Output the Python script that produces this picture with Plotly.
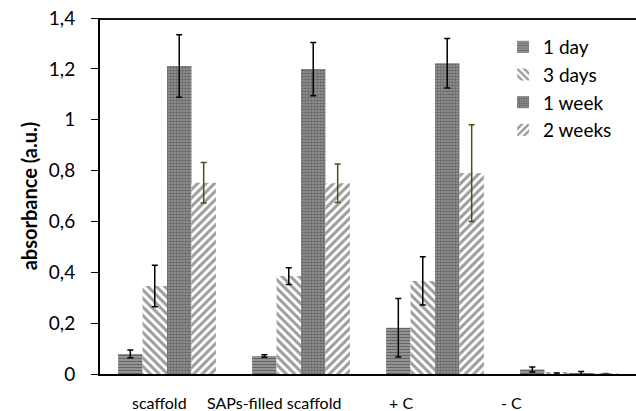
import plotly.graph_objects as go

categories = ["scaffold", "SAPs-filled scaffold", "+ C", "- C"]
series_names = ["1 day", "3 days", "1 week", "2 weeks"]
values = {
    "1 day":   [0.079, 0.071, 0.182, 0.018],
    "3 days":  [0.346, 0.385, 0.366, 0.004],
    "1 week":  [1.211, 1.199, 1.222, 0.002],
    "2 weeks": [0.752, 0.750, 0.790, 0.002],
}
errors = {
    "1 day":   [0.015, 0.005, 0.115, 0.010],
    "3 days":  [0.082, 0.033, 0.095, 0.0],
    "1 week":  [0.123, 0.105, 0.097, 0.008],
    "2 weeks": [0.080, 0.076, 0.190, 0.0],
}
y_ticks = [0, 0.2, 0.4, 0.6, 0.8, 1.0, 1.2, 1.4]

patterns = {
    "1 day":   dict(shape="-", fgcolor="#222222", bgcolor="#a8a8a8", size=3, solidity=0.55),
    "3 days":  dict(shape="\\", fgcolor="#3a3a3a", bgcolor="#ffffff", size=6, solidity=0.5),
    "1 week":  dict(shape=".", fgcolor="#333333", bgcolor="#9a9a9a", size=3, solidity=0.6),
    "2 weeks": dict(shape="/", fgcolor="#3a3a3a", bgcolor="#ffffff", size=6, solidity=0.5),
}
err_colors = {"1 day": "#000000", "3 days": "#000000", "1 week": "#000000", "2 weeks": "#4f4f12"}

FONT = "Lato"
fig = go.Figure()
for name in series_names:
    fig.add_trace(go.Bar(
        x=categories, y=values[name], name=name,
        marker=dict(color=patterns[name]["bgcolor"], line=dict(width=0),
                    pattern=patterns[name]),
        error_y=dict(type="data", array=errors[name], visible=True,
                     color=err_colors[name], thickness=1.5, width=3),
    ))

label_shift = [-8, -27, -34, -58]
for cat, sh in zip(categories, label_shift):
    fig.add_annotation(x=cat, xref="x", y=-0.079, yref="paper", text=cat,
                       showarrow=False, xshift=sh, yanchor="middle",
                       font=dict(family=FONT, size=16, color="#000"))

# top border of the plot area (drawn just inside the top edge)
fig.add_shape(type="line", xref="paper", yref="paper", x0=0, x1=1,
              y0=0.997, y1=0.997, line=dict(color="#111", width=2), layer="above")

fig.update_layout(
    width=636, height=411,
    margin=dict(l=100, r=0, t=18, b=37, autoexpand=False),
    paper_bgcolor="white", plot_bgcolor="white",
    barmode="group", bargap=0.27, bargroupgap=0,
    separators=",.",
    font=dict(family=FONT, size=17, color="#000"),
    legend=dict(x=0.752, y=0.972, xanchor="left", yanchor="top",
                font=dict(family=FONT, size=19, color="#000"),
                bgcolor="rgba(0,0,0,0)", itemwidth=30, tracegroupgap=0),
    showlegend=True,
)
fig.update_xaxes(type="category", range=[-0.5, 3.5], showticklabels=False,
                 showline=True, linecolor="#000", linewidth=2,
                 ticks="", showgrid=False, zeroline=False, automargin=False)
fig.update_yaxes(range=[0, 1.4], tickvals=y_ticks, showgrid=False, zeroline=False,
                 showline=True, linecolor="#000", linewidth=2, automargin=False,
                 ticks="outside", ticklen=7, tickwidth=1, tickcolor="#000",
                 ticklabelstandoff=12,
                 tickfont=dict(family=FONT, size=19, color="#000"),
                 title=dict(text="<b>absorbance (a.u.)</b>", standoff=6,
                            font=dict(family=FONT, size=20, color="#000")))

# remove the default page margin so the figure sits at the window's top-left corner
fig.write_html("out.html", config={"displayModeBar": False},
               post_script="document.body.style.margin='0';document.body.style.overflow='hidden';")
